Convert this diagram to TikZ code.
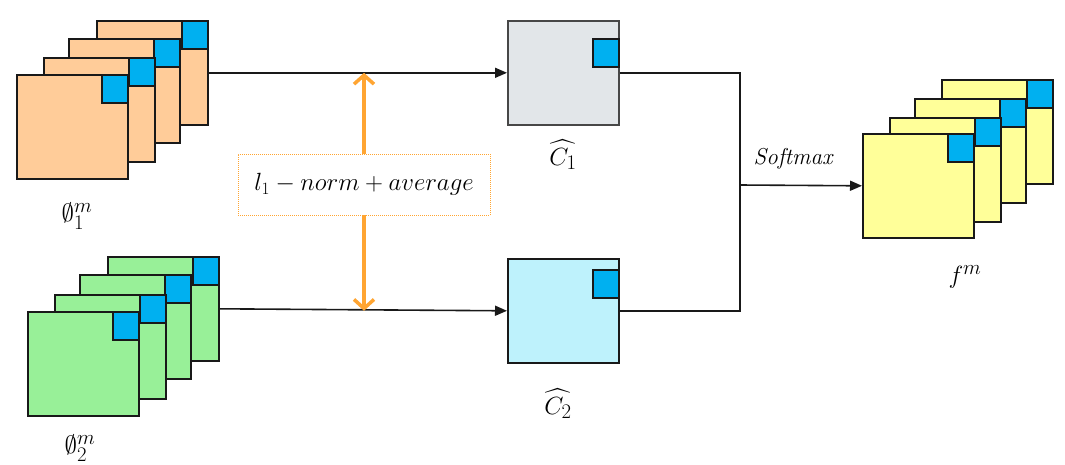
\documentclass[tikz,border=0pt]{standalone}
\usepackage{amsmath,amssymb}
\usetikzlibrary{arrows.meta}
\definecolor{corange}{RGB}{255,204,153}
\definecolor{cgreen}{RGB}{152,240,152}
\definecolor{cyellow}{RGB}{255,255,153}
\definecolor{cblue}{RGB}{0,176,240}
\definecolor{cgray}{RGB}{226,230,233}
\definecolor{ccyan}{RGB}{190,242,252}
\definecolor{carrow}{RGB}{255,165,50}
\definecolor{cline}{RGB}{25,25,25}
\tikzset{
  sq/.style={draw=cline, line width=1.6pt, minimum width=111pt, minimum height=104pt, inner sep=0pt, anchor=north west},
  corner/.style={draw=cline, line width=1.6pt, fill=cblue, minimum width=26pt, minimum height=28pt, inner sep=0pt, anchor=north east},
  conn/.style={draw=cline, line width=1.6pt},
  arr/.style={conn, -{Triangle[length=12pt,width=10pt]}},
  oarr/.style={draw=carrow, line width=4pt, -{Straight Barb[length=9pt,width=20pt,line width=3.5pt]}},
  lbl/.style={font=\fontsize{24.88}{28}\selectfont, inner sep=0pt}
}
\begin{document}
\begin{tikzpicture}[x=1pt,y=-1pt]
\useasboundingbox (0,0) rectangle (1065,464);
% orange stack
\node[sq, fill=corange] (o4) at (96,20) {};
\node[corner] (o4c) at (o4.north east) {};
\node[sq, fill=corange] (o3) at (68,38) {};
\node[corner] (o3c) at (o3.north east) {};
\node[sq, fill=corange] (o2) at (43,57) {};
\node[corner] (o2c) at (o2.north east) {};
\node[sq, fill=corange] (o1) at (16,74) {};
\node[corner] (o1c) at (o1.north east) {};
% green stack
\node[sq, fill=cgreen] (g4) at (107,256) {};
\node[corner] (g4c) at (g4.north east) {};
\node[sq, fill=cgreen] (g3) at (79,274) {};
\node[corner] (g3c) at (g3.north east) {};
\node[sq, fill=cgreen] (g2) at (54,294) {};
\node[corner] (g2c) at (g2.north east) {};
\node[sq, fill=cgreen] (g1) at (27,311) {};
\node[corner] (g1c) at (g1.north east) {};
% yellow stack
\node[sq, fill=cyellow] (y4) at (941,79) {};
\node[corner] (y4c) at (y4.north east) {};
\node[sq, fill=cyellow] (y3) at (914,98) {};
\node[corner] (y3c) at (y3.north east) {};
\node[sq, fill=cyellow] (y2) at (889,117) {};
\node[corner] (y2c) at (y2.north east) {};
\node[sq, fill=cyellow] (y1) at (862,133) {};
\node[corner] (y1c) at (y1.north east) {};
% C boxes
\node[sq, fill=cgray, draw=cline!80] (c1) at (507,20) {};
\node[corner] (c1c) at ([yshift=-18pt]c1.north east) {};
\node[sq, fill=ccyan] (c2) at (507,258) {};
\node[corner] (c2c) at ([yshift=-11pt]c2.north east) {};
% labels
\node[lbl] (lo) at (77,216) {$\emptyset_1^m$};
\node[lbl] (lg) at (80,448) {$\emptyset_2^m$};
\node[lbl] (lc1) at (563,155) {$\widehat{C_1}$};
\node[lbl] (lc2) at (558,404) {$\widehat{C_2}$};
\node[lbl] (lf) at (965,277) {$f^m$};
\node[font=\fontsize{23}{27}\selectfont\itshape, inner sep=0pt] (sm) at (793,159) {Softmax};
% norm box
\node[draw=carrow, line width=0.7pt, dash pattern=on 1pt off 1pt, minimum width=252pt, minimum height=61pt, inner sep=0pt,
  font=\fontsize{23}{27}\selectfont] (nb) at (364,184.5) {$l_1-norm+average$};
% connectors
\draw[arr] (o4.east) -- (c1.west);
\draw[arr] (g4.east) -- (c2.west);
\coordinate (J) at (740,185);
\draw[conn] (c1.east) -| (J);
\draw[conn] (c2.east) -| (J);
\draw[arr] (J) -- (y1.west);
\draw[oarr] (nb.north) -- (nb.north |- c1.west);
\draw[oarr] (nb.south) -- (nb.south |- c2.west);
\end{tikzpicture}
\end{document}
